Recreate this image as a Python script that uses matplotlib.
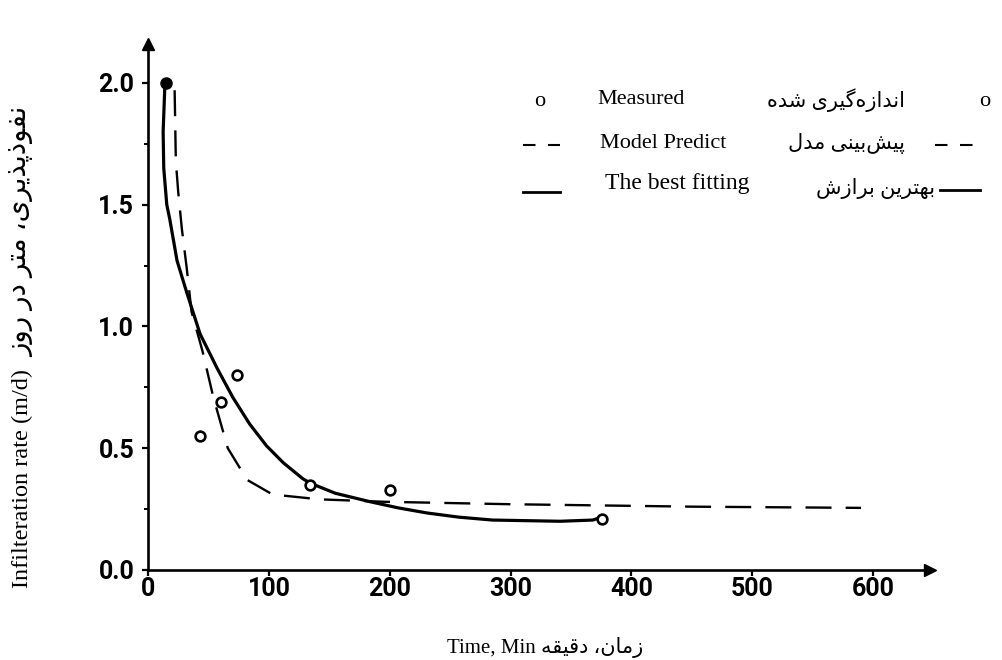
import numpy as np
import matplotlib
matplotlib.use('Agg')
from matplotlib import pyplot as plt
from matplotlib.lines import Line2D

# measured infiltration (time in min, rate in m/d)
measured_t = [15, 43, 60, 74, 134, 200, 376]
measured_rate = [2.0, 0.55, 0.69, 0.80, 0.35, 0.33, 0.21]

# model prediction (dashed)
model_t = [22, 23, 25, 28, 32, 36, 45, 54, 66, 82, 103, 142, 196, 300, 450, 590]
model_rate = [1.97, 1.68, 1.55, 1.40, 1.24, 1.06, 0.90, 0.71, 0.50, 0.37, 0.31,
              0.29, 0.28, 0.27, 0.26, 0.255]

# best fitting curve (solid)
fit_t = [14, 12.5, 13, 15.5, 18, 24, 32, 43, 57, 70, 84, 98, 112, 128, 134,
         155, 184, 207, 231, 257, 285, 341, 368, 376]
fit_rate = [2.0, 1.8, 1.65, 1.50, 1.44, 1.27, 1.14, 0.97, 0.83, 0.71, 0.60,
            0.51, 0.44, 0.375, 0.357, 0.315, 0.28, 0.255, 0.234, 0.217,
            0.205, 0.20, 0.205, 0.218]

x_ticks = [0, 100, 200, 300, 400, 500, 600]
y_ticks = [0.0, 0.5, 1.0, 1.5, 2.0]

# matplotlib does no arabic shaping, so pick presentation forms by hand
FORMS = {
    'ا': ('\uFE8D', '\uFE8E'),
    'د': ('\uFEA9', '\uFEAA'),
    'ذ': ('\uFEAB', '\uFEAC'),
    'ر': ('\uFEAD', '\uFEAE'),
    'ز': ('\uFEAF', '\uFEB0'),
    'و': ('\uFEED', '\uFEEE'),
    'ب': ('\uFE8F', '\uFE90', '\uFE91', '\uFE92'),
    'پ': ('\uFB56', '\uFB57', '\uFB58', '\uFB59'),
    'ت': ('\uFE95', '\uFE96', '\uFE97', '\uFE98'),
    'ش': ('\uFEB5', '\uFEB6', '\uFEB7', '\uFEB8'),
    'ف': ('\uFED1', '\uFED2', '\uFED3', '\uFED4'),
    'ق': ('\uFED5', '\uFED6', '\uFED7', '\uFED8'),
    'گ': ('\uFB92', '\uFB93', '\uFB94', '\uFB95'),
    'ل': ('\uFEDD', '\uFEDE', '\uFEDF', '\uFEE0'),
    'م': ('\uFEE1', '\uFEE2', '\uFEE3', '\uFEE4'),
    'ن': ('\uFEE5', '\uFEE6', '\uFEE7', '\uFEE8'),
    'ه': ('\uFEE9', '\uFEEA', '\uFEEB', '\uFEEC'),
    'ی': ('\uFEEF', '\uFEF0', '\uFEF3', '\uFEF4'),
}


def fa(text):
    out = []
    for i, ch in enumerate(text):
        f = FORMS.get(ch)
        if f is None:
            if ch != '\u200c':
                out.append(ch)
            continue
        prev = text[i - 1] if i > 0 else ''
        nxt = text[i + 1] if i + 1 < len(text) else ''
        join_prev = prev in FORMS and len(FORMS[prev]) == 4
        join_next = len(f) == 4 and nxt in FORMS
        if join_prev and join_next:
            out.append(f[3])
        elif join_prev:
            out.append(f[1])
        elif join_next:
            out.append(f[2])
        else:
            out.append(f[0])
    return ''.join(reversed(out))


SERIF = ['Liberation Serif', 'DejaVu Sans']

fig = plt.figure(figsize=(10.03, 6.6), dpi=100)
ax = fig.add_axes([0.1476, 0.1364, 0.7795, 0.797])

ax.plot(fit_t, fit_rate, color='black', lw=2.3, solid_capstyle='round',
        solid_joinstyle='round')
ax.plot(model_t, model_rate, color='black', lw=1.7, dashes=(11, 6))
ax.plot(measured_t[1:], measured_rate[1:], 'o', ms=7, mfc='white', mec='black', mew=1.9)
ax.plot(measured_t[:1], measured_rate[:1], 'o', ms=8, color='black')

ax.set_xlim(0, 647)
ax.set_ylim(0, 2.16)
ax.set_xticks(x_ticks)
ax.set_yticks(y_ticks)
ax.set_yticks([0.25, 0.75, 1.25, 1.75], minor=True)
ax.set_yticklabels([f'{v:.1f}' for v in y_ticks])

for s in ['top', 'right']:
    ax.spines[s].set_visible(False)
for s in ['left', 'bottom']:
    ax.spines[s].set_linewidth(1.9)

ax.tick_params(axis='both', which='major', length=4, width=1.6,
               labelsize=18, direction='out')
ax.tick_params(axis='y', which='major', pad=6)
ax.tick_params(axis='x', which='major', pad=1)
ax.tick_params(axis='y', which='minor', length=3, width=1.4)
for lab in ax.get_xticklabels() + ax.get_yticklabels():
    lab.set_fontfamily('Roboto')
    lab.set_fontweight('bold')

# arrow heads on the axes
ax.plot(1, 0, '>', color='black', ms=9, transform=ax.transAxes, clip_on=False)
ax.plot(0, 1, '^', color='black', ms=9, transform=ax.transAxes, clip_on=False)


def fx(px):
    return px / 1003


def fy(py):
    return 1 - py / 660


# axis titles
fig.text(fx(545), fy(648), 'Time, Min ' + fa('زمان، دقیقه'),
         family=SERIF, fontsize=15, ha='center', va='center')
fig.text(fx(22), fy(479), 'Infilteration rate (m/d)',
         family=SERIF, fontsize=17.5, ha='center', va='center', rotation=90)
fig.text(fx(22), fy(232), fa('نفوذپذیری، متر در روز'),
         family=SERIF, fontsize=20, ha='center', va='center', rotation=90)

# bilingual legend
fig.text(fx(540), fy(102), 'o', family=SERIF, fontsize=16, ha='center', va='center')
fig.text(fx(597), fy(100), 'Measured', family=SERIF, fontsize=16, va='center')
fig.text(fx(905), fy(100), fa('اندازه‌گیری شده'), family=SERIF, fontsize=15,
         ha='right', va='center')
fig.text(fx(985), fy(102), 'o', family=SERIF, fontsize=16, ha='center', va='center')

fig.text(fx(600), fy(143), 'Model Predict', family=SERIF, fontsize=16, va='center')
fig.text(fx(905), fy(143), fa('پیش‌بینی مدل'), family=SERIF, fontsize=15,
         ha='right', va='center')
for x0, x1 in [(523, 560), (935, 980)]:
    fig.add_artist(Line2D([fx(x0), fx(x1)], [fy(145), fy(145)], color='black',
                          lw=1.5, dashes=(6, 6), transform=fig.transFigure))

fig.text(fx(605), fy(183), 'The best fitting', family=SERIF, fontsize=17,
         va='center')
fig.text(fx(935), fy(188), fa('بهترین برازش'), family=SERIF, fontsize=15,
         ha='right', va='center')
for x0, x1, y in [(523, 560, 192), (940, 980, 190)]:
    fig.add_artist(Line2D([fx(x0), fx(x1)], [fy(y), fy(y)], color='black',
                          lw=2, transform=fig.transFigure))

fig.savefig('out.png', dpi=100)
